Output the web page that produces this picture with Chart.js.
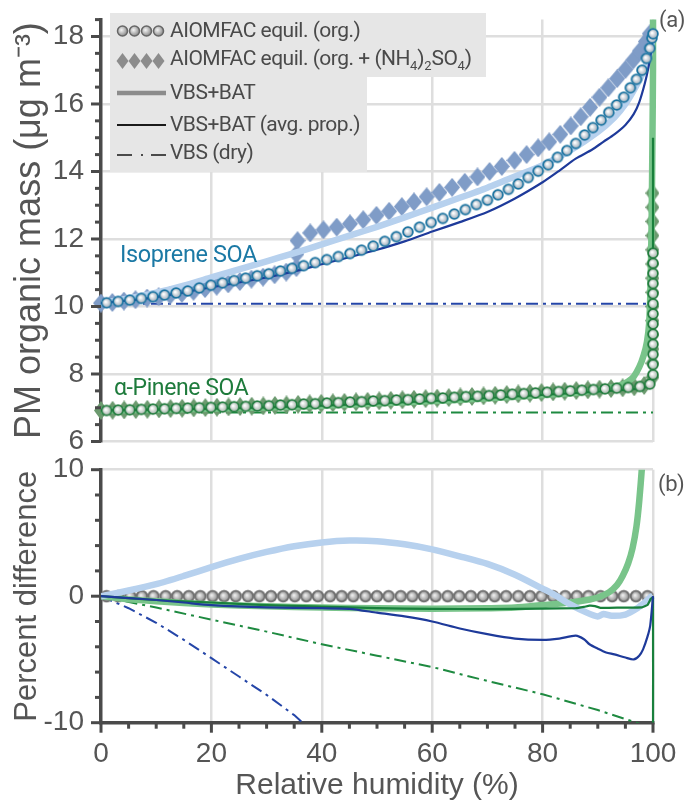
<!DOCTYPE html>
<html>
<head>
<meta charset="utf-8">
<script src="https://cdn.jsdelivr.net/npm/chart.js@4.4.1/dist/chart.umd.min.js"></script>
<style>
  html, body { margin: 0; padding: 0; background: #fff; }
  #wrap { position: relative; width: 684px; height: 800px; overflow: hidden; font-family: Roboto, sans-serif; }
  #wrap canvas { position: absolute; left: 0; }
  #top { top: 0; }
  #bot { top: 440px; }
  .box { position: absolute; left: 110px; background: #e6e6e6; }
  .row { position: absolute; left: 170px; font-size: 21px; line-height: 21px; letter-spacing: -0.5px; color: #4a4a4a; white-space: nowrap; }
  .row sub { font-size: 13px; vertical-align: -5px; line-height: 0; letter-spacing: 0; }
  .lab { position: absolute; white-space: nowrap; line-height: 1; letter-spacing: -0.4px; }
  #keys { position: absolute; left: 0; top: 0; }
</style>
</head>
<body>
<div id="wrap">
  <canvas id="top" width="684" height="460"></canvas>
  <canvas id="bot" width="684" height="365"></canvas>

  <div class="box" style="top:13px;width:376px;height:64px"></div>
  <div class="box" style="top:77px;width:257px;height:95px"></div>
  <svg id="keys" width="684" height="180">
    <defs>
      <radialGradient id="gball" cx="0.4" cy="0.4" r="0.6">
        <stop offset="0" stop-color="#f4f4f4"/>
        <stop offset="1" stop-color="#8c8c8c"/>
      </radialGradient>
    </defs>
    <g fill="url(#gball)" stroke="#666" stroke-width="1.5">
      <circle cx="122.5" cy="31" r="5"/><circle cx="134.5" cy="31" r="5"/>
      <circle cx="146.5" cy="31" r="5"/><circle cx="158.5" cy="31" r="5"/>
    </g>
    <g fill="#8c8c8c">
      <polygon points="122.5,53 128.5,61 122.5,69 116.5,61"/>
      <polygon points="134.5,53 140.5,61 134.5,69 128.5,61"/>
      <polygon points="146.5,53 152.5,61 146.5,69 140.5,61"/>
      <polygon points="158.5,53 164.5,61 158.5,69 152.5,61"/>
    </g>
    <line x1="117" y1="93" x2="166" y2="93" stroke="#8c8c8c" stroke-width="4.5"/>
    <line x1="117" y1="125" x2="166" y2="125" stroke="#1a1a1a" stroke-width="2"/>
    <g stroke="#4a4a4a" stroke-width="2">
      <line x1="117" y1="155" x2="132" y2="155"/>
      <line x1="141" y1="155" x2="143" y2="155"/>
      <line x1="151" y1="155" x2="166" y2="155"/>
    </g>
  </svg>
  <div class="row" style="top:19.6px">AIOMFAC equil. (org.)</div>
  <div class="row" style="top:48px">AIOMFAC equil. (org. + (NH<sub>4</sub>)<sub>2</sub>SO<sub>4</sub>)</div>
  <div class="row" style="top:82.3px">VBS+BAT</div>
  <div class="row" style="top:114px">VBS+BAT (avg. prop.)</div>
  <div class="row" style="top:141.6px">VBS (dry)</div>

  <div class="lab" style="left:120px;top:243px;font-size:23.5px;color:#1b79a5">Isoprene SOA</div>
  <div class="lab" style="left:114px;top:376px;font-size:23px;color:#1e7b3c">α-Pinene SOA</div>
  <div class="lab" style="left:659px;top:9px;font-size:22px;color:#555">(a)</div>
  <div class="lab" style="left:658px;top:473px;font-size:22px;color:#555">(b)</div>
</div>

<script>
// ---- panel (a): PM organic mass (µg m-3) vs relative humidity (%)
const isoOrgRH = [1.0, 3.1, 5.2, 7.3, 9.4, 11.5, 13.6, 15.7, 17.8, 19.9, 22.0, 24.1, 26.2, 28.3, 30.4, 32.5, 34.6, 36.7, 38.8, 40.9,
  43.0, 45.1, 47.2, 49.3, 51.4, 53.5, 55.6, 57.7, 59.8, 61.9, 64.0, 66.0, 68.0, 70.0, 71.9, 73.8, 75.6, 77.4, 79.2, 81.0,
  82.7, 84.4, 86.0, 87.6, 89.1, 90.6, 92.0, 93.4, 94.7, 95.9, 97.0, 98.0, 98.8, 99.4, 99.8, 100];
const isoOrgPM = [10.11, 10.15, 10.19, 10.24, 10.29, 10.34, 10.40, 10.46, 10.55, 10.63, 10.70, 10.77, 10.84, 10.91, 10.97, 11.05, 11.13, 11.21, 11.30, 11.39,
  11.48, 11.57, 11.67, 11.79, 11.93, 12.07, 12.21, 12.35, 12.49, 12.61, 12.74, 12.87, 13.02, 13.15, 13.31, 13.47, 13.63, 13.82, 14.01, 14.20,
  14.42, 14.62, 14.83, 15.08, 15.30, 15.52, 15.75, 15.97, 16.20, 16.48, 16.73, 17.00, 17.35, 17.65, 17.95, 18.08];

const isoSaltRH = [0, 2.05, 4.15, 6.25, 8.35, 10.45, 12.55, 14.65, 16.75, 18.85, 20.95, 23.05, 25.15, 27.25, 29.35, 31.45, 33.55, 35.4, 35.4, 35.6,
  37.9, 40.3, 42.7, 45.1, 47.5, 49.9, 52.2, 54.5, 56.7, 59.0, 61.3, 63.6, 65.9, 68.2, 70.4, 72.6, 74.9, 77.1, 79.2, 81.2,
  83.2, 85.1, 86.9, 88.6, 90.3, 91.9, 93.5, 95.0, 96.4, 97.6, 98.7, 99.4];
const isoSaltPM = [10.10, 10.12, 10.16, 10.20, 10.25, 10.29, 10.34, 10.39, 10.45, 10.53, 10.60, 10.67, 10.74, 10.81, 10.87, 10.94, 11.02, 11.15, 11.55, 11.95,
  12.18, 12.27, 12.35, 12.45, 12.57, 12.70, 12.82, 12.96, 13.10, 13.25, 13.38, 13.53, 13.68, 13.84, 14.00, 14.15, 14.33, 14.50, 14.70, 14.88,
  15.10, 15.35, 15.62, 15.90, 16.20, 16.48, 16.75, 17.02, 17.30, 17.57, 17.85, 18.08];

const isoBatRH = [0, 5, 10, 15, 20, 25, 30, 35, 40, 45, 50, 55, 60, 65, 70, 75, 80, 85, 90, 93, 95, 97, 98.5, 99.5, 100];
const isoBatPM = [10.10, 10.24, 10.41, 10.62, 10.86, 11.10, 11.34, 11.58, 11.84, 12.10, 12.36, 12.64, 12.93, 13.22, 13.52, 13.85, 14.19, 14.62, 15.17, 15.6, 16.0, 16.55, 17.05, 17.6, 18.05];

const isoAvgRH = [0, 5, 10, 15, 20, 25, 30, 35, 40, 45, 50, 55, 60, 65, 70, 75, 80, 83, 86, 89, 91, 93, 95, 96.5, 97.5, 98.5, 99.2, 99.7, 100];
const isoAvgPM = [10.10, 10.18, 10.28, 10.42, 10.57, 10.71, 10.86, 11.04, 11.25, 11.46, 11.68, 11.93, 12.22, 12.5, 12.8, 13.2, 13.68, 14.02, 14.38, 14.65, 14.88, 15.1, 15.38, 15.7, 16.05, 16.6, 17.1, 17.6, 18.05];

const isoDryRH = [0, 100];
const isoDryPM = [10.08, 10.08];

const apOrgRH = [1.0, 3.1, 5.2, 7.3, 9.4, 11.5, 13.6, 15.7, 17.8, 19.9, 22.0, 24.1, 26.2, 28.3, 30.4, 32.5, 34.6, 36.7, 38.8, 40.9,
  43.0, 45.1, 47.2, 49.3, 51.4, 53.5, 55.6, 57.7, 59.8, 61.9, 64.0, 66.1, 68.2, 70.3, 72.4, 74.5, 76.6, 78.7, 80.8, 82.9,
  85.0, 87.1, 89.2, 91.3, 93.4, 95.5, 97.6, 99.4, 100, 100, 100, 100, 100, 100, 100, 100, 100, 100, 100, 100, 100];
const apOrgPM = [6.92, 6.93, 6.94, 6.95, 6.96, 6.97, 6.98, 6.99, 7.00, 7.01, 7.02, 7.03, 7.04, 7.05, 7.06, 7.08, 7.09, 7.11, 7.12, 7.14,
  7.15, 7.17, 7.18, 7.20, 7.21, 7.23, 7.24, 7.26, 7.28, 7.29, 7.31, 7.33, 7.34, 7.36, 7.38, 7.40, 7.42, 7.44, 7.46, 7.48,
  7.50, 7.52, 7.54, 7.56, 7.58, 7.60, 7.63, 7.70, 7.98, 8.28, 8.58, 8.88, 9.18, 9.48, 9.78, 10.08, 10.38, 10.68, 10.98, 11.28, 11.58];

const apSaltRH = [0, 2.1, 4.2, 6.3, 8.4, 10.5, 12.6, 14.7, 16.8, 18.9, 21.0, 23.1, 25.2, 27.3, 29.4, 31.5, 33.6, 35.7, 37.8, 39.9,
  42.0, 44.1, 46.2, 48.3, 50.4, 52.5, 54.6, 56.7, 58.8, 60.9, 63.0, 65.1, 67.2, 69.3, 71.4, 73.5, 75.6, 77.7, 79.8, 81.9,
  84.0, 86.1, 88.2, 90.3, 92.4, 94.5, 96.6, 98.4, 99.9, 99.9, 99.9, 99.9, 99.9, 99.9, 99.9, 99.9, 99.9, 99.9, 99.9, 99.9, 99.9, 99.9];
const apSaltPM = [6.92, 6.925, 6.935, 6.945, 6.955, 6.965, 6.975, 6.985, 6.995, 7.005, 7.015, 7.025, 7.035, 7.045, 7.055, 7.07, 7.085, 7.10, 7.115, 7.13,
  7.145, 7.16, 7.175, 7.19, 7.205, 7.22, 7.235, 7.25, 7.27, 7.285, 7.30, 7.32, 7.335, 7.35, 7.37, 7.39, 7.41, 7.43, 7.45, 7.47,
  7.49, 7.51, 7.53, 7.55, 7.57, 7.59, 7.62, 7.66, 7.9, 8.32, 8.74, 9.16, 9.58, 10.0, 10.42, 10.84, 11.26, 11.68, 12.1, 12.52, 12.94, 13.36];

const apBatRH = [0, 10, 20, 30, 40, 50, 60, 70, 80, 85, 88, 91, 93, 94.5, 95.5, 96.5, 97.5, 98.3, 98.9, 99.3, 99.55, 99.75, 99.9, 100, 100];
const apBatPM = [6.92, 6.94, 6.97, 7.01, 7.06, 7.13, 7.2, 7.28, 7.38, 7.43, 7.48, 7.56, 7.62, 7.69, 7.78, 7.92, 8.2, 8.55, 8.95, 9.5, 10.6, 12.5, 15.0, 17.0, 19.5];

const apAvgRH = [0, 20, 40, 60, 80, 90, 95, 98, 99.5, 100, 100];
const apAvgPM = [6.92, 6.97, 7.06, 7.2, 7.38, 7.48, 7.53, 7.58, 7.68, 7.76, 15.0];

const apDryRH = [0, 100];
const apDryPM = [6.86, 6.86];

// ---- panel (b): percent difference vs AIOMFAC equil. (org.)
const refRH = [1.0, 3.1, 5.3, 7.4, 9.5, 11.7, 13.8, 15.9, 18.0, 20.2, 22.3, 24.4, 26.6, 28.7, 30.8, 33.0, 35.1, 37.2, 39.3, 41.5,
  43.6, 45.7, 47.9, 50.0, 52.1, 54.3, 56.4, 58.5, 60.6, 62.8, 64.9, 67.0, 69.2, 71.3, 73.4, 75.6, 77.7, 79.8, 81.9, 84.1,
  86.2, 88.3, 90.5, 92.6, 94.7, 96.9, 99.0];
const refDiff = [0, 0, 0, 0, 0, 0, 0, 0, 0, 0, 0, 0, 0, 0, 0, 0, 0, 0, 0, 0,
  0, 0, 0, 0, 0, 0, 0, 0, 0, 0, 0, 0, 0, 0, 0, 0, 0, 0, 0, 0,
  0, 0, 0, 0, 0, 0, 0];

const isoBatDiffRH = [0, 5, 10, 15, 20, 25, 30, 35, 40, 45, 50, 55, 60, 65, 70, 75, 80, 82, 85, 88, 90, 91, 92.5, 95, 97, 98.5, 99.5, 100];
const isoBatDiff = [0, 0.45, 0.95, 1.6, 2.3, 2.95, 3.5, 3.95, 4.25, 4.4, 4.35, 4.1, 3.7, 3.15, 2.55, 1.7, 0.6, 0.15, -0.65, -1.3, -1.6, -1.4, -1.55, -1.45, -1.0, -0.5, -0.1, 0.05];

const isoAvgDiffRH = [0, 5, 10, 15, 20, 30, 40, 45, 50, 55, 60, 65, 70, 75, 80, 83, 86, 87.5, 88.5, 90, 91.5, 93, 95, 96.5, 97.5, 98.2, 99, 99.5, 100];
const isoAvgDiff = [0, -0.15, -0.3, -0.5, -0.7, -0.88, -0.95, -1.0, -1.3, -1.6, -2.0, -2.55, -3.0, -3.35, -3.45, -3.35, -3.12, -3.4, -3.8, -4.15, -4.45, -4.6, -4.85, -5.0, -4.7, -4.2, -3.2, -2.3, 0];

const apBatDiffRH = [0, 5, 10, 20, 30, 40, 50, 60, 70, 75, 80, 85, 88, 90, 92, 93.5, 94.5, 95.5, 96.3, 97, 97.5, 98, 98.4];
const apBatDiff = [0, -0.25, -0.4, -0.65, -0.8, -0.9, -0.95, -1.0, -0.95, -0.9, -0.7, -0.5, -0.3, -0.1, 0.3, 0.9, 1.6, 2.6, 3.8, 5.5, 7.5, 10.2, 13];

const apAvgDiffRH = [0, 5, 10, 20, 30, 40, 50, 60, 70, 80, 86, 87.5, 88.5, 89.5, 90.5, 92, 95, 98, 99, 99.6, 100, 100];
const apAvgDiff = [0, -0.15, -0.3, -0.5, -0.7, -0.82, -0.95, -1.0, -1.02, -0.98, -0.95, -0.85, -0.75, -0.78, -0.92, -0.92, -0.9, -0.88, -0.7, -0.2, -0.1, -12];

const isoDryDiffRH = [0, 5, 10, 15, 20, 25, 30, 35, 38];
const isoDryDiff = [0, -0.95, -2.1, -3.45, -4.9, -6.35, -7.8, -9.4, -10.6];

const apDryDiffRH = [0, 10, 20, 30, 40, 50, 60, 70, 80, 90, 97, 99];
const apDryDiff = [0, -0.9, -1.85, -2.8, -3.8, -4.7, -5.6, -6.7, -7.75, -9.0, -10, -10.3];

// tick labels
const pmTickLabels = [6, 8, 10, 12, 14, 16, 18];
const diffTickLabels = [-10, 0, 10];
const rhTickLabels = [0, 20, 40, 60, 80, 100];

// ---- styles
const axisColor = '#4a4a4a';
const gridColor = '#dedede';
const textColor = '#555';
const dashDot = [12, 5, 3, 5];

Chart.defaults.font.family = "'Liberation Sans', Arial, sans-serif";

function ball(edge, light, dark, r) {
  const c = document.createElement('canvas');
  c.width = c.height = 14;
  const g = c.getContext('2d');
  const grad = g.createRadialGradient(6, 6, 0.5, 7, 7, r);
  grad.addColorStop(0, light);
  grad.addColorStop(1, dark);
  g.beginPath();
  g.arc(7, 7, r, 0, 2 * Math.PI);
  g.fillStyle = grad;
  g.fill();
  g.lineWidth = 1.8;
  g.strokeStyle = edge;
  g.stroke();
  return c;
}

function diamond(color, w, h) {
  const c = document.createElement('canvas');
  c.width = w;
  c.height = h;
  const g = c.getContext('2d');
  g.beginPath();
  g.moveTo(w / 2, 0);
  g.lineTo(w, h / 2);
  g.lineTo(w / 2, h);
  g.lineTo(0, h / 2);
  g.closePath();
  g.fillStyle = color;
  g.fill();
  return c;
}

const isoBall = ball('#1c74a1', '#ffffff', '#9aa9b8', 4.9);
const apBall = ball('#237d3f', '#ffffff', '#a3b2a8', 4.9);
const refBall = ball('#6e6e6e', '#eeeeee', '#8a8a8a', 5.3);
const isoDiamond = diamond('#7f9cc7', 16, 19);
const apDiamond = diamond('#6c9a6f', 14, 19);

const pts = (xs, ys) => xs.map((x, i) => ({ x: x, y: ys[i] }));

function line(xs, ys, color, width, extra) {
  return Object.assign({
    data: pts(xs, ys), showLine: true, borderColor: color, borderWidth: width,
    pointRadius: 0, tension: 0.25, fill: false
  }, extra);
}

function marks(xs, ys, img, extra) {
  return Object.assign({
    data: pts(xs, ys), showLine: false, pointStyle: img, pointRadius: 5, clip: false
  }, extra);
}

// fixed axis box size, no extra room for the end labels
function fixBox(size) {
  return s => {
    if (s.isHorizontal()) s.height = size; else s.width = size;
    s.paddingTop = s.paddingBottom = s.paddingLeft = s.paddingRight = 0;
  };
}

// tick marks: long on labelled values, short in between
const tickMarks = {
  id: 'tickMarks',
  afterDraw(chart, args, opts) {
    const { ctx, chartArea } = chart;
    ctx.save();
    ctx.strokeStyle = axisColor;
    ctx.lineWidth = 3;
    ['x', 'y'].forEach(id => {
      const labels = opts[id];
      if (!labels) return;
      const scale = chart.scales[id];
      scale.ticks.forEach(t => {
        const p = scale.getPixelForValue(t.value);
        const len = labels.includes(t.value) ? 10 : 6;
        ctx.beginPath();
        if (id === 'y') {
          ctx.moveTo(chartArea.left - len, p);
          ctx.lineTo(chartArea.left, p);
        } else {
          ctx.moveTo(p, chartArea.bottom);
          ctx.lineTo(p, chartArea.bottom + len);
        }
        ctx.stroke();
      });
    });
    ctx.restore();
  }
};

const tickFont = { size: 28 };

new Chart(document.getElementById('top'), {
  type: 'scatter',
  data: {
    datasets: [
      marks(isoOrgRH, isoOrgPM, isoBall, { order: 1 }),
      marks(apOrgRH, apOrgPM, apBall, { order: 1 }),
      line(isoAvgRH, isoAvgPM, '#1e3a9a', 2.2, { order: 2, clip: { left: 0, top: 4, right: 4, bottom: 4 } }),
      line(apAvgRH, apAvgPM, '#19803c', 2.2, { order: 2, tension: 0.15, clip: { left: 0, top: 4, right: 4, bottom: 4 } }),
      line(isoBatRH, isoBatPM, '#b7d1ee', 6.5, { order: 3, clip: { left: 0, top: 4, right: 6, bottom: 4 } }),
      line(apBatRH, apBatPM, '#79c48a', 6.5, { order: 3, clip: { left: 0, top: 0, right: 6, bottom: 4 } }),
      marks(isoSaltRH, isoSaltPM, isoDiamond, { order: 4 }),
      marks(apSaltRH, apSaltPM, apDiamond, { order: 4 }),
      line(isoDryRH, isoDryPM, '#2546a8', 2, { order: 5, tension: 0, borderDash: dashDot }),
      line(apDryRH, apDryPM, '#1e8a40', 2, { order: 5, tension: 0, borderDash: dashDot })
    ]
  },
  options: {
    responsive: false, animation: false, devicePixelRatio: 1, events: [],
    layout: { autoPadding: false, padding: { top: 19.6, bottom: 18.5, left: 0, right: 31 } },
    plugins: { legend: { display: false }, tooltip: { enabled: false }, tickMarks: { y: pmTickLabels } },
    scales: {
      x: {
        type: 'linear', min: 0, max: 100,
        afterFit: fixBox(0),
        ticks: { display: false, stepSize: 20, autoSkip: false },
        grid: { drawTicks: false, lineWidth: 2.5, color: c => c.tick.value > 0 ? gridColor : 'transparent' },
        border: { display: false }
      },
      y: {
        min: 6, max: 18.5,
        afterFit: fixBox(101),
        ticks: {
          stepSize: 0.5, autoSkip: false, padding: 17, color: textColor, font: tickFont,
          callback: v => pmTickLabels.includes(v) ? v : ''
        },
        grid: { drawTicks: false, lineWidth: 2.5, color: c => pmTickLabels.includes(c.tick.value) ? gridColor : 'transparent' },
        border: { color: axisColor, width: 3.5 },
        title: {
          display: true, text: 'PM organic mass (μg m⁻³)', color: textColor,
          font: { size: 36 }, padding: { top: 8, bottom: 0 }
        }
      }
    }
  },
  plugins: [tickMarks]
});

new Chart(document.getElementById('bot'), {
  type: 'scatter',
  data: {
    datasets: [
      line(isoAvgDiffRH, isoAvgDiff, '#1e3a9a', 2.2, { order: 2, clip: { left: 0, top: 4, right: 4, bottom: 4 } }),
      line(apAvgDiffRH, apAvgDiff, '#19803c', 2.2, { order: 2, tension: 0.1, clip: { left: 0, top: 4, right: 4, bottom: 0 } }),
      line(isoBatDiffRH, isoBatDiff, '#b7d1ee', 6.5, { order: 3, clip: { left: 0, top: 4, right: 6, bottom: 4 } }),
      line(apBatDiffRH, apBatDiff, '#79c48a', 6.5, { order: 3, clip: { left: 0, top: 0, right: 6, bottom: 4 } }),
      marks(refRH, refDiff, refBall, { order: 4 }),
      line(isoDryDiffRH, isoDryDiff, '#2546a8', 2, { order: 5, tension: 0, borderDash: dashDot, clip: { left: 0, top: 4, right: 4, bottom: 0 } }),
      line(apDryDiffRH, apDryDiff, '#1e8a40', 2, { order: 5, tension: 0, borderDash: dashDot, clip: { left: 0, top: 4, right: 4, bottom: 0 } })
    ]
  },
  options: {
    responsive: false, animation: false, devicePixelRatio: 1, events: [],
    layout: { autoPadding: false, padding: { top: 29.7, bottom: 0, left: 0, right: 31 } },
    plugins: { legend: { display: false }, tooltip: { enabled: false }, tickMarks: { x: rhTickLabels, y: diffTickLabels } },
    scales: {
      x: {
        type: 'linear', min: 0, max: 100,
        afterFit: fixBox(82.3),
        ticks: {
          stepSize: 5, autoSkip: false, maxRotation: 0, padding: 15, color: textColor, font: tickFont,
          callback: v => rhTickLabels.includes(v) ? v : ''
        },
        grid: { drawTicks: false, lineWidth: 2.5, color: c => c.tick.value > 0 && rhTickLabels.includes(c.tick.value) ? gridColor : 'transparent' },
        border: { color: axisColor, width: 3.5 },
        title: {
          display: true, text: 'Relative humidity (%)', color: textColor,
          font: { size: 30 }, padding: { top: 0, bottom: 1 }
        }
      },
      y: {
        min: -10, max: 10,
        afterFit: fixBox(101),
        ticks: {
          stepSize: 2, autoSkip: false, padding: 17, color: textColor, font: tickFont,
          callback: v => diffTickLabels.includes(v) ? v : ''
        },
        grid: { drawTicks: false, lineWidth: 2.5, color: c => c.tick.value === 10 ? gridColor : 'transparent' },
        border: { color: axisColor, width: 3.5 },
        title: {
          display: true, text: 'Percent difference', color: textColor,
          font: { size: 31 }, padding: { top: 9, bottom: 0 }
        }
      }
    }
  },
  plugins: [tickMarks]
});
</script>
</body>
</html>
